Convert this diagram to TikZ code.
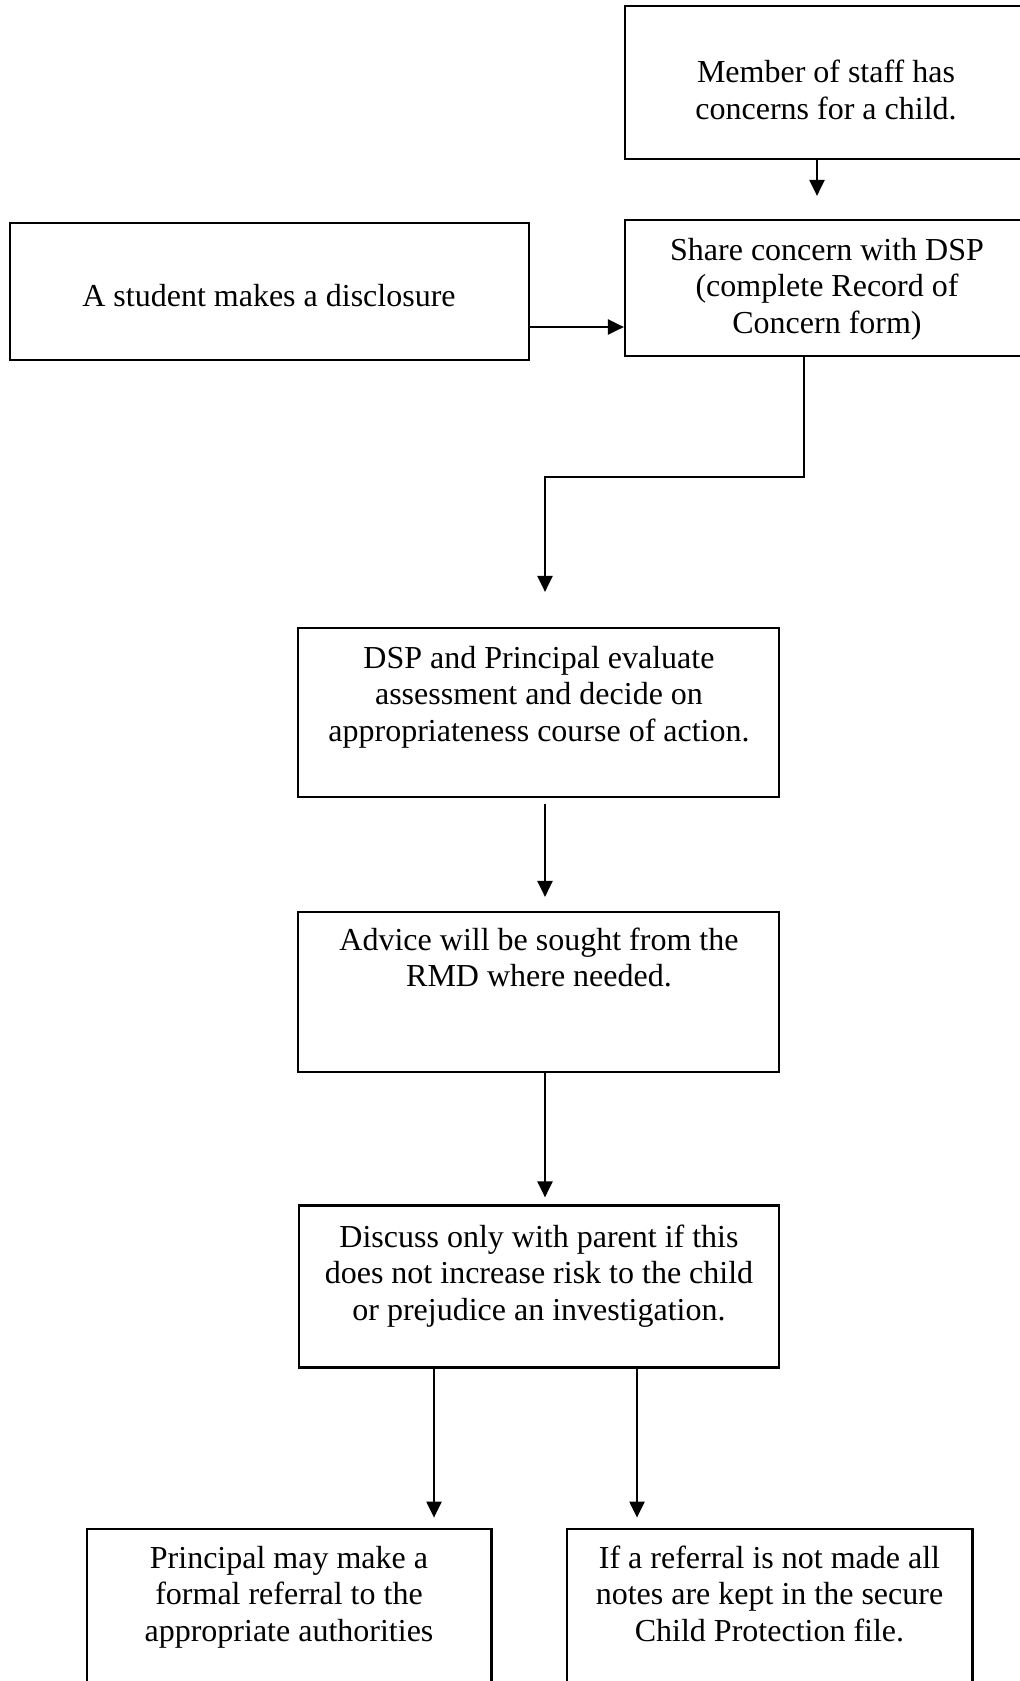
\documentclass[tikz,border=0pt]{standalone}
\usepackage{fontspec}
\setmainfont{Liberation Serif}
\usetikzlibrary{arrows.meta}
\tikzset{
  box/.style={draw=black, line width=1.1pt, rectangle, inner sep=0pt},
  openbox/.style={inner sep=0pt, rectangle},
  txt/.style={font=\fontsize{16pt}{18.35pt}\selectfont, align=center, inner sep=0pt, anchor=base},
  arr/.style={line width=1.1pt, -{Triangle[length=8pt,width=7.5pt]}}
}
\begin{document}
\begin{tikzpicture}[x=0.5pt,y=-0.5pt]
\useasboundingbox[fill=white] (0,0) rectangle (1020,1681);
% boxes (pixel coordinates, y downward)
\node[box, minimum width=202.5pt, minimum height=76.5pt] (b1) at (827.5,82.5) {};
\node[box, minimum width=202.5pt, minimum height=68pt] (b2) at (827.5,288) {};
\node[box, minimum width=259.5pt, minimum height=68.5pt] (bA) at (269.5,291.5) {};
\node[box, minimum width=240.5pt, minimum height=84.5pt] (b3) at (538.5,712.5) {};
\node[box, minimum width=240.5pt, minimum height=80pt] (b4) at (538.5,992) {};
\node[box, minimum width=240pt, minimum height=81pt] (b5) at (539,1286.5) {};
\node[openbox, minimum width=202pt, minimum height=83pt] (b6) at (289,1612) {};
\node[openbox, minimum width=202.5pt, minimum height=83pt] (b7) at (769.5,1612) {};
\draw[line width=1.1pt] (b6.south west) -- (b6.north west) -- (b6.north east) -- (b6.south east);
\draw[line width=1.1pt] (b7.south west) -- (b7.north west) -- (b7.north east) -- (b7.south east);
% texts (anchored at the baseline of the last line)
\node[txt] (t1) at (826,119.5) {Member of staff has\\concerns for a child.};
\node[txt] (t2) at (827,333.4) {Share concern with DSP\\(complete Record of\\Concern form)};
\node[txt] (tA) at (269,306) {A student makes a disclosure};
\node[txt] (t3) at (539,741.4) {DSP and Principal evaluate\\assessment and decide on\\appropriateness course of action.};
\node[txt] (t4) at (539,986.7) {Advice will be sought from the\\RMD where needed.};
\node[txt] (t5) at (539,1320.4) {Discuss only with parent if this\\does not increase risk to the child\\or prejudice an investigation.};
\node[txt] (t6) at (289,1641.4) {Principal may make a\\formal referral to the\\appropriate authorities};
\node[txt] (t7) at (769.5,1641.4) {If a referral is not made all\\notes are kept in the secure\\Child Protection file.};
% connector helper coordinates
\coordinate (h1) at (0,327);
\coordinate (v1) at (817,0);
\coordinate (e1) at (804,477);
\coordinate (e2) at (545,477);
\coordinate (v2) at (545,0);
\coordinate (v3) at (434,0);
\coordinate (v4) at (637,0);
% connectors
\draw[arr, shorten >=11.5pt] (b1.south -| v1) -- (b2.north -| v1);
\draw[arr] (bA.east |- h1) -- (b2.west |- h1);
\draw[arr, shorten >=17.5pt] (b2.south -| e1) -- (e1) -- (e2) -- (b3.north -| e2);
\draw[arr, shorten <=3pt, shorten >=7pt] (b3.south -| v2) -- (b4.north -| v2);
\draw[arr, shorten >=3.5pt] (b4.south -| v2) -- (b5.north -| v2);
\draw[arr, shorten >=5.5pt] (b5.south -| v3) -- (b6.north -| v3);
\draw[arr, shorten >=5.5pt] (b5.south -| v4) -- (b7.north -| v4);
\end{tikzpicture}
\end{document}
